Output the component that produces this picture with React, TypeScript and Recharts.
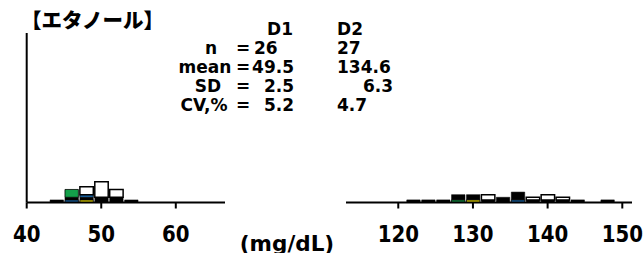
import React from 'react';
import { BarChart, Bar, XAxis, YAxis, Cell } from 'recharts';

// ---- data ----
const titleText = '【エタノール】';
const statLabels = ['n', 'mean', 'SD', 'CV,%'];
const d1Stats = ['26', '49.5', '2.5', '5.2'];
const d2Stats = ['27', '134.6', '6.3', '4.7'];
const unitLabel = '(mg/dL)';

const d1Ticks = [40, 50, 60];
const d2Ticks = [120, 130, 140, 150];

// bin centres (bin width 2 mg/dL)
const d1Bins = [44, 46, 48, 50, 52, 54];
const d2Bins = [122, 124, 126, 128, 130, 132, 134, 136, 138, 140, 142, 144, 148];

// stacked segments per bin, bottom to top: [colour key, count]
type Seg = [string, number];
const d1Segments: Seg[][] = [
  [['k', 1]],
  [['b', 1], ['k', 1], ['g', 3]],
  [['y', 1], ['k', 1], ['b', 1], ['w', 3]],
  [['k', 2], ['w', 6]],
  [['k', 2], ['w', 3]],
  [['k', 1]],
];
const d2Segments: Seg[][] = [
  [['k', 1]],
  [['k', 1]],
  [['k', 1]],
  [['g', 1], ['k', 2]],
  [['y', 1], ['k', 2]],
  [['k', 1], ['w', 2]],
  [['k', 2]],
  [['b', 1], ['k', 3]],
  [['k', 1], ['w', 1]],
  [['k', 1], ['w', 2]],
  [['k', 1], ['w', 1]],
  [['k', 1]],
  [['k', 1]],
];

const COLORS: Record<string, string> = {
  k: '#000000',
  w: '#ffffff',
  g: '#14a04a',
  b: '#1a6fb8',
  y: '#ffee00',
};

const LEVELS = [0, 1, 2, 3, 4];

function buildRows(bins: number[], segs: Seg[][]) {
  return bins.map((x, i) => {
    const row: any = { x };
    LEVELS.forEach((l) => {
      const s = segs[i][l];
      row['v' + l] = s ? s[1] : 0;
      row['k' + l] = s ? s[0] : 'k';
    });
    return row;
  });
}

const d1Rows = buildRows(d1Bins, d1Segments);
const d2Rows = buildRows(d2Bins, d2Segments);

const FONT = '"DejaVu Sans", Verdana, sans-serif';
const W = 643;
const H = 253;
const PLOT_TOP = 33;
const PLOT_BOTTOM = 202.5;
const XAXIS_H = 30;
const Y_MAX = 65;

const TickLabel = (props: any) => {
  const { x, y, payload } = props;
  return (
    <text
      transform={`translate(${x},${y + 31}) scale(0.86,1)`}
      x={0}
      y={0}
      textAnchor="middle"
      fontFamily={FONT}
      fontWeight="bold"
      fontSize={23}
      fill="#000"
    >
      {payload.value}
    </text>
  );
};

function T(props: { x: number; y: number; anchor?: string; children: any }) {
  const { x, y, anchor, children } = props;
  return (
    <text
      x={x}
      y={y}
      textAnchor={(anchor || 'start') as any}
      fontFamily={FONT}
      fontWeight="bold"
      fontSize={17}
      fill="#000"
    >
      {children}
    </text>
  );
}

function Panel(props: {
  rows: any[];
  domain: [number, number];
  ticks: number[];
  left: number;
  right: number;
  showY: boolean;
}) {
  const { rows, domain, ticks, left, right, showY } = props;
  const plotW = W - left - right;
  const barPx = (2 * plotW) / (domain[1] - domain[0]);
  const yW = showY ? 10 : 0;
  return (
    <div style={{ position: 'absolute', left: 0, top: 0 }}>
      <BarChart
        width={W}
        height={H}
        data={rows}
        margin={{ left: left - yW, right, top: PLOT_TOP, bottom: H - PLOT_BOTTOM - XAXIS_H }}
        barCategoryGap={0}
        barGap={0}
        barSize={barPx}
      >
        <XAxis
          dataKey="x"
          type="number"
          domain={domain}
          ticks={ticks}
          allowDataOverflow
          height={XAXIS_H}
          axisLine={{ stroke: '#000', strokeWidth: 2 }}
          tickLine={{ stroke: '#000', strokeWidth: 2 }}
          tickSize={6}
          tick={<TickLabel />}
          interval={0}
        />
        {showY ? (
          <YAxis
            domain={[0, Y_MAX]}
            width={yW}
            tick={false}
            tickLine={false}
            axisLine={{ stroke: '#000', strokeWidth: 2 }}
          />
        ) : (
          <YAxis domain={[0, Y_MAX]} hide />
        )}
        {LEVELS.map((l) => (
          <Bar key={l} dataKey={'v' + l} stackId="a" isAnimationActive={false}>
            {rows.map((r, i) => {
              const key = r['k' + l];
              const colored = key === 'g' || key === 'b' || key === 'y';
              return (
                <Cell
                  key={i}
                  fill={COLORS[key]}
                  stroke="#000"
                  strokeWidth={key === 'k' ? 0.5 : colored ? 0.8 : 1.5}
                />
              );
            })}
          </Bar>
        ))}
      </BarChart>
    </div>
  );
}

export default function App() {
  const rowBase = [54, 73, 92, 111];
  const labelX = [211, 205, 208, 204];
  return (
    <div style={{ position: 'absolute', left: 0, top: 0, width: W, height: H, background: '#fff', overflow: 'hidden' }}>
      <Panel rows={d1Rows} domain={[40, 66.6]} ticks={d1Ticks} left={26.7} right={W - 225} showY />
      <Panel rows={d2Rows} domain={[113, 151.3]} ticks={d2Ticks} left={346} right={W - 632} showY={false} />
      <svg width={W} height={H} style={{ position: 'absolute', left: 0, top: 0 }}>
        <text x={21} y={28} fontFamily='"Noto Sans CJK JP", sans-serif' fontWeight={900} fontSize={20.5} fill="#000">
          {titleText}
        </text>
        <T x={280} y={35} anchor="middle">D1</T>
        <T x={350} y={35} anchor="middle">D2</T>
        {statLabels.map((s, i) => (
          <T key={'l' + i} x={labelX[i]} y={rowBase[i]} anchor="middle">{s}</T>
        ))}
        {statLabels.map((s, i) => (
          <T key={'e' + i} x={236} y={rowBase[i]}>=</T>
        ))}
        {d1Stats.map((s, i) =>
          i === 0 ? (
            <T key={'a' + i} x={254} y={rowBase[i]}>{s}</T>
          ) : (
            <T key={'a' + i} x={294} y={rowBase[i]} anchor="end">{s}</T>
          )
        )}
        {d2Stats.map((s, i) =>
          i === 2 ? (
            <T key={'b' + i} x={393} y={rowBase[i]} anchor="end">{s}</T>
          ) : (
            <T key={'b' + i} x={337} y={rowBase[i]}>{s}</T>
          )
        )}
        <text x={287} y={251} textAnchor="middle" fontFamily={FONT} fontWeight="bold" fontSize={21.5} fill="#000">
          {unitLabel}
        </text>
      </svg>
    </div>
  );
}
